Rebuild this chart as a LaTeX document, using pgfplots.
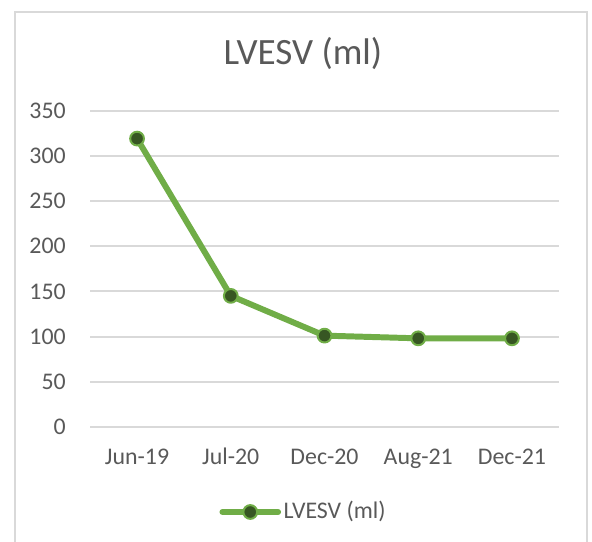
\documentclass[border=0pt]{standalone}
\usepackage{fontspec}
\setmainfont{Carlito}
\usepackage{pgfplots}
\pgfplotsset{compat=1.18}
\definecolor{txt}{HTML}{595959}
\definecolor{gridc}{HTML}{D9D9D9}
\definecolor{lgreen}{HTML}{70AD47}
\definecolor{dgreen}{HTML}{375623}
\begin{document}
\begin{tikzpicture}
\useasboundingbox (0,0) rectangle (223.4pt,204.5pt);
\draw[draw=gridc, line width=0.6pt] (5.66pt,0) -- (5.66pt,200.0pt) -- (221.5pt,200.0pt) -- (221.5pt,0);
\node[anchor=base, text=txt, font=\fontsize{14}{16}\selectfont] at (114.35pt,180.0pt) {LVESV (ml)};
\begin{axis}[
  at={(34.04pt,43.40pt)}, anchor=south west,
  scale only axis, width=176.85pt, height=119.37pt,
  xmin=-0.5, xmax=4.5, ymin=0, ymax=350,
  xtick={0,1,2,3,4},
  xticklabels={Jun-19,Jul-20,Dec-20,Aug-21,Dec-21},
  ytick={0,50,100,150,200,250,300,350},
  axis line style={draw=none},
  major tick length=0pt,
  xmajorgrids=false, ymajorgrids=true,
  major grid style={draw=gridc, line width=0.75pt},
  /pgf/number format/assume math mode=true,
  ticklabel style={font=\fontsize{9}{11}\selectfont, text=txt},
  yticklabel style={anchor=east, xshift=-5.7pt},
  xticklabel style={anchor=base, yshift=-14.3pt},
  legend style={at={(0.456,-0.269)}, anchor=center, draw=none, fill=none,
    font=\fontsize{9}{11}\selectfont, text=txt, inner sep=1pt,
    nodes={inner sep=1pt}},
  legend image code/.code={\draw[mark repeat=2, mark phase=2, #1] plot coordinates {(0pt,0pt) (10.5pt,0pt) (21pt,0pt)};},
]
\addplot[lgreen, line width=2.25pt, line cap=round, line join=round, mark=*, mark size=2.6pt,
  mark options={fill=dgreen, draw=lgreen, line width=0.75pt}]
  coordinates {(0,319) (1,145) (2,101) (3,98) (4,98)};
\addlegendentry{LVESV (ml)}
\end{axis}
\end{tikzpicture}
\end{document}
